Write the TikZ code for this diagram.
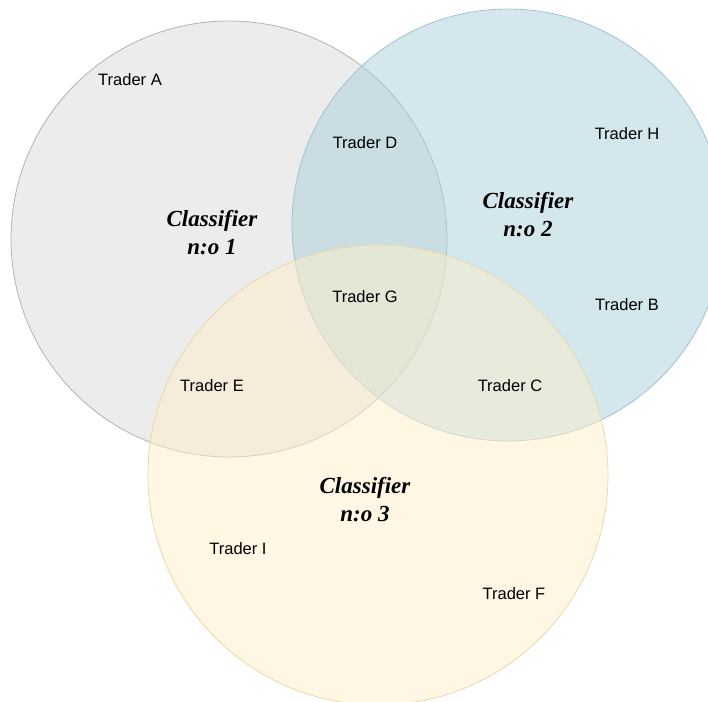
\documentclass[tikz,border=0pt]{standalone}
\usepackage{fontspec}
\setmainfont{Liberation Sans}
\newfontfamily\clsfont{Liberation Serif}
\usepackage{xcolor}
\usepackage{tikz}
\usetikzlibrary{positioning}

\definecolor{setgray}{HTML}{D9D9D9}
\definecolor{setblue}{HTML}{A7CFDB}
\definecolor{setyellow}{HTML}{FFEFC9}
\definecolor{rimgray}{HTML}{B3B3B3}
\definecolor{rimblue}{HTML}{A3C0D3}
\definecolor{rimyellow}{HTML}{E8D9A8}

\begin{document}
\begin{tikzpicture}[
    x=1pt, y=-1pt,
    set/.style={circle, line width=0.8pt, fill opacity=0.5, text opacity=1},
    trader/.style={font=\fontsize{16.5}{20}\selectfont, inner sep=0pt},
    cls/.style={font=\clsfont\bfseries\itshape\fontsize{23}{28}\selectfont,
                align=center, inner sep=0pt}
  ]
  \useasboundingbox (0,0) rectangle (708,701);

  % sets
  \node[set, draw=rimgray, fill=setgray, minimum size=436pt] (c1) at (229,239) {};
  \node[set, draw=rimblue, fill=setblue, minimum size=432pt] (c2) at (508,225) {};
  \node[set, draw=rimyellow, fill=setyellow, minimum size=460pt] (c3) at (378,475) {};

  % classifier names
  \node[cls] (n1) at (212,233) {Classifier\\n:o 1};
  \node[cls] (n2) at (528,215) {Classifier\\n:o 2};
  \node[cls] (n3) at (365,500) {Classifier\\n:o 3};

  % traders
  \node[trader] (ta) at (130,80) {Trader A};
  \node[trader] (td) at (365,143) {Trader D};
  \node[trader] (th) at (627,134) {Trader H};
  \node[trader] (tg) at (365,297) {Trader G};
  \node[trader] (tb) at (627,305) {Trader B};
  \node[trader] (te) at (212,386) {Trader E};
  \node[trader] (tc) at (510,386) {Trader C};
  \node[trader] (ti) at (238,549) {Trader I};
  \node[trader] (tf) at (514,594) {Trader F};
\end{tikzpicture}
\end{document}
